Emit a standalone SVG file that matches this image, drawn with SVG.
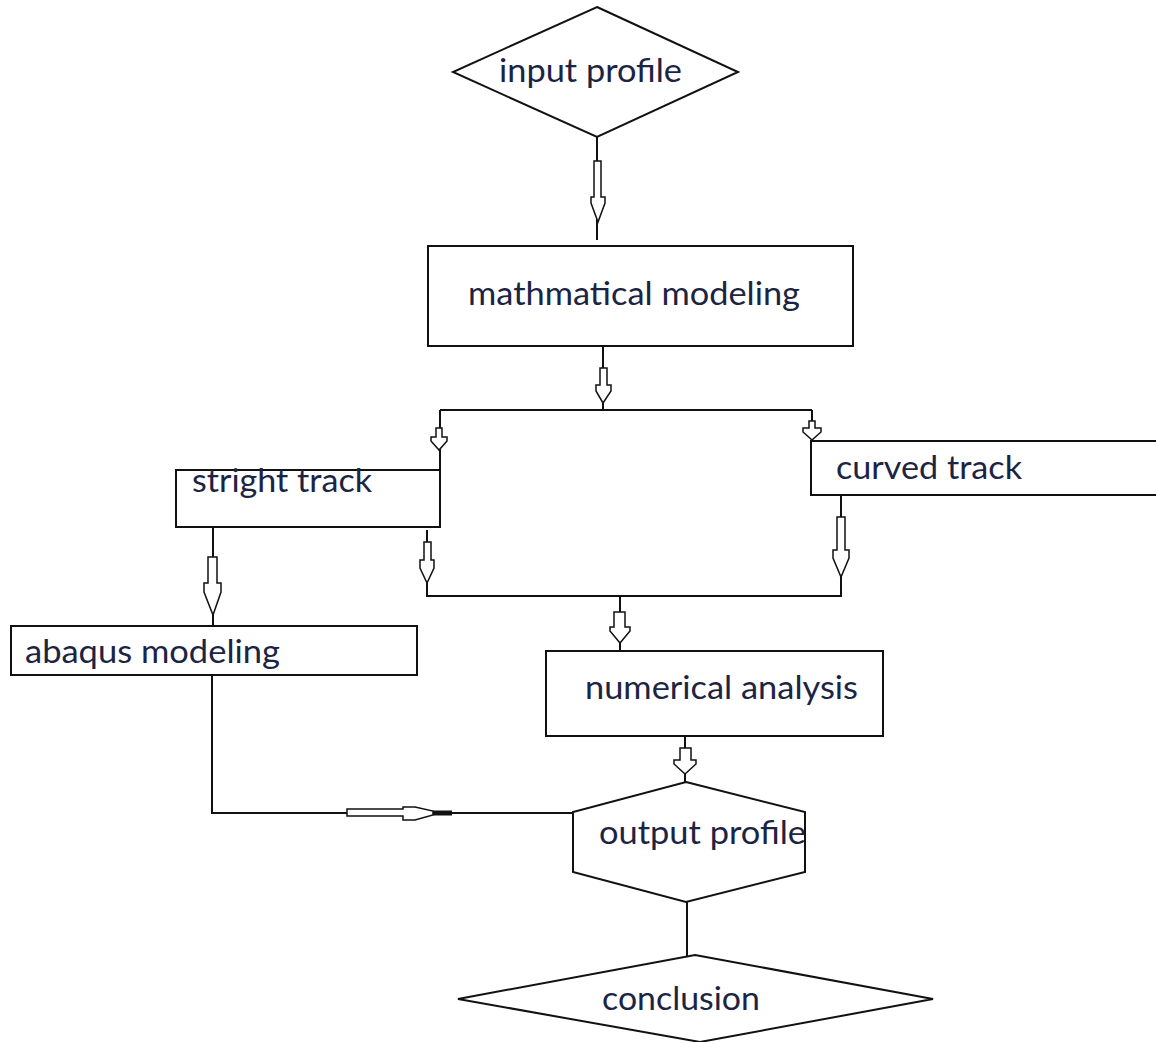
<svg xmlns="http://www.w3.org/2000/svg" width="1156" height="1042" viewBox="0 0 1156 1042">
<style>
.shape{fill:#fff;stroke:#111;stroke-width:2}
.ln{fill:none;stroke:#111;stroke-width:2}
.ar{fill:#fff;stroke:#111;stroke-width:1.5}
.tip{fill:#111}
.t{font-family:Lato,"Open Sans","Liberation Sans",sans-serif;font-size:32px;fill:#1c2444}
</style>
<rect width="1156" height="1042" fill="#fff"/>
<g id="connectors">
<path class="ln" d="M597,137 V240"/>
<path class="ln" d="M603,346 V410 M440,410 H812 M440,410 V470 M812,410 V441"/>
<path class="ln" d="M213,527 V626"/>
<path class="ln" d="M427,530 V596 H841 M841,495 V597 M620,596 V651"/>
<path class="ln" d="M685,736 V782"/>
<path class="ln" d="M212,675 V813 H573"/>
<path class="ln" d="M687,902 V958"/>
<path class="ar" d="M594,161 H601 V197 H605 V203 L598,222 L591,203 V197 H594 Z"/>
<path class="ar" d="M600,368 H607 V385 H611 V391 L603,403 L596,391 V385 H600 Z"/>
<path class="ar" d="M436,428 H442 V437 H447 V441 L439,450 L431,441 V437 H436 Z"/>
<path class="ar" d="M809,421 H815 V428 H821 V432 L812,440 L803,432 V428 H809 Z"/>
<path class="ar" d="M208,557 H217 V583 H221 V592 L213,615 L204,592 V583 H208 Z"/>
<path class="ar" d="M424,542 H431 V560 H434 V568 L427,583 L420,568 V560 H424 Z"/>
<path class="ar" d="M837,517 H845 V550 H849 V558 L841,577 L833,558 V550 H837 Z"/>
<path class="ar" d="M614,612 H625 V627 H630 V631 L620,643 L610,631 V627 H614 Z"/>
<path class="ar" d="M680,748 H691 V760 H696 V764 L685,774 L674,764 V760 H680 Z"/>
<path class="ar" d="M347,809 H403 V807 H415 L433,811 V815 L415,820 H403 V816 H347 Z"/>
<rect class="tip" x="433" y="810.5" width="19" height="5"/>
</g>
<g id="input-profile">
<polygon class="shape" points="597,7 738,72 597,137 453,72"/>
<text class="t" x="499" y="82" textLength="183" lengthAdjust="spacingAndGlyphs">input profile</text>
</g>
<g id="mathmatical-modeling">
<rect class="shape" x="428" y="246" width="425" height="100"/>
<text class="t" x="468" y="305" textLength="332" lengthAdjust="spacingAndGlyphs">mathmatical modeling</text>
</g>
<g id="stright-track">
<rect class="shape" x="176" y="470" width="264" height="57"/>
<text class="t" x="192" y="492" textLength="180" lengthAdjust="spacingAndGlyphs">stright track</text>
</g>
<g id="curved-track">
<rect class="shape" x="811" y="441" width="360" height="54"/>
<path class="ln" d="M811,441 V495" stroke-width="3.5"/>
<text class="t" x="836" y="479" textLength="186" lengthAdjust="spacingAndGlyphs">curved track</text>
</g>
<g id="abaqus-modeling">
<rect class="shape" x="11" y="626" width="406" height="49"/>
<text class="t" x="25" y="663" textLength="255" lengthAdjust="spacingAndGlyphs">abaqus modeling</text>
</g>
<g id="numerical-analysis">
<rect class="shape" x="546" y="651" width="337" height="85"/>
<text class="t" x="585" y="699" textLength="273" lengthAdjust="spacingAndGlyphs">numerical analysis</text>
</g>
<g id="output-profile">
<polygon class="shape" points="686,782 805,812 805,872 686,902 573,872 573,812"/>
<text class="t" x="599" y="844" textLength="207" lengthAdjust="spacingAndGlyphs">output profile</text>
</g>
<g id="conclusion">
<polygon class="shape" points="695,955 933,999 700,1042 458,999"/>
<text class="t" x="602" y="1010" textLength="158" lengthAdjust="spacingAndGlyphs">conclusion</text>
</g>
</svg>
